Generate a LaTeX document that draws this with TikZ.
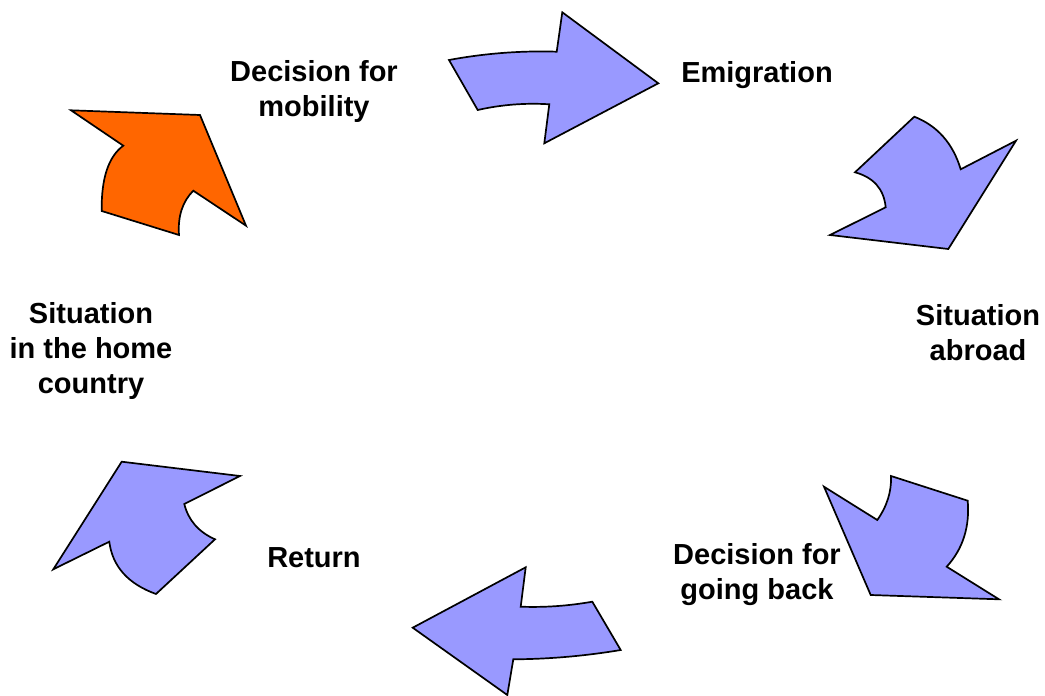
\documentclass[tikz,border=0pt]{standalone}
\usepackage{fontspec}
\setmainfont{Liberation Sans}
\usetikzlibrary{calc}
\definecolor{arrblue}{HTML}{9999FF}
\definecolor{arrorange}{HTML}{FF6600}
\begin{document}
\begin{tikzpicture}[x=1pt,y=-1pt,
  arrowshape/.style={draw=black,line width=1.7pt,line join=miter,fill=arrblue},
  label/.style={align=center,font=\fontsize{29}{35}\selectfont\bfseries,inner sep=0pt}]
\useasboundingbox (0,0) rectangle (1045,696);
% arrow 1: to Emigration
\path[arrowshape] (449,60) .. controls ($(449,60)!2/3!(503,50)$) and ($(556.7,51.7)!2/3!(503,50)$) .. (556.7,51.7) -- (562.3,12.3) -- (658.3,83.3) -- (544.3,143.3) -- (549.3,104.3) .. controls ($(549.3,104.3)!2/3!(513,102)$) and ($(477.7,110)!2/3!(513,102)$) .. (477.7,110) -- cycle;
% arrow 2: orange
\path[arrowshape,fill=arrorange] (71,110.3) -- (200,115) -- (246,225.7) -- (193.3,190.7) .. controls ($(193.3,190.7)!2/3!(177,207)$) and ($(179,235)!2/3!(177,207)$) .. (179,235) -- (101.7,211) .. controls ($(101.7,211)!2/3!(101,162)$) and ($(123.3,145.7)!2/3!(101,162)$) .. (123.3,145.7) -- cycle;
% arrow 3
\path[arrowshape] (914.3,116.7) .. controls ($(914.3,116.7)!2/3!(949,130.4)$) and ($(960.7,169.3)!2/3!(949,130.4)$) .. (960.7,169.3) -- (1016,140.7) -- (948.3,249) -- (830,235) -- (885.7,207.3) .. controls ($(885.7,207.3)!2/3!(883,180)$) and ($(855,172.3)!2/3!(883,180)$) .. (855,172.3) -- cycle;
% arrow 4
\path[arrowshape] (891,476) -- (967.7,500.7) .. controls ($(967.7,500.7)!2/3!(971,540)$) and ($(946.7,566.7)!2/3!(971,540)$) .. (946.7,566.7) -- (999,599.3) -- (870.7,595) -- (824,486.7) -- (877.3,520) .. controls ($(877.3,520)!2/3!(892,499)$) and ($(891,476)!2/3!(892,499)$) .. cycle;
% arrow 5
\path[arrowshape] (525.7,567.3) -- (520.7,606.7) .. controls ($(520.7,606.7)!2/3!(556.5,608)$) and ($(592.3,601.7)!2/3!(556.5,608)$) .. (592.3,601.7) -- (620.7,650) .. controls ($(620.7,650)!2/3!(567,659)$) and ($(513.3,659.3)!2/3!(567,659)$) .. (513.3,659.3) -- (507.3,695) -- (412.7,627.7) -- cycle;
% arrow 6
\path[arrowshape] (121.7,461.7) -- (240,476) -- (184.3,504) .. controls ($(184.3,504)!2/3!(190.3,528.3)$) and ($(215,539.3)!2/3!(190.3,528.3)$) .. (215,539.3) -- (156,594) .. controls ($(156,594)!2/3!(114,578.8)$) and ($(109.3,541.7)!2/3!(114,578.8)$) .. (109.3,541.7) -- (53.3,569.3) -- cycle;
% labels
\node[label] (mob) at (314,92) {Decision for\\mobility};
\node[label] (emi) at (757,75) {Emigration};
\node[label] (abr) at (978,333) {Situation\\abroad};
\node[label] (back) at (757,575) {Decision for\\going back};
\node[label] (ret) at (314,558) {Return};
\node[label] (home) at (91,351) {Situation\\in the home\\country};
\end{tikzpicture}
\end{document}
